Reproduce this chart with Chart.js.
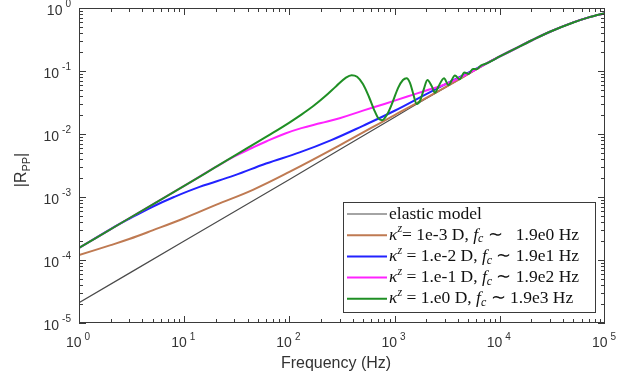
<!DOCTYPE html>
<html lang="en">
<head>
  <meta charset="UTF-8" />
  <title>|Rpp| versus frequency</title>
  <script src="https://cdn.jsdelivr.net/npm/chart.js"></script>
  <style>
    html, body { margin: 0; padding: 0; background: #fff; }
    #wrap { width: 618px; height: 383px; }
  </style>
</head>
<body>
  <div id="wrap"><canvas id="rppChart" width="618" height="383"></canvas></div>

  <script>
    // elastic reference curve
    const freqElastic = [1, 10, 100, 1000, 2000, 5000, 7500, 10000, 15000, 20000, 30000, 50000, 70000, 100000];
    const rppElastic  = [2.1e-5, 2.0e-4, 1.9e-3, 0.0185, 0.0365, 0.089, 0.132, 0.17, 0.24, 0.305, 0.42, 0.59, 0.71, 0.83];

    // kappa = 1e-3 D
    const freqK3 = [1, 2, 3, 5, 10, 20, 45, 100, 300, 1000, 2000, 5000, 7500, 10000, 15000, 20000, 30000, 50000, 70000, 100000];
    const rppK3  = [1.2e-4, 1.72e-4, 2.15e-4, 2.95e-4, 4.6e-4, 7.5e-4, 1.3e-3, 2.5e-3, 6.6e-3, 0.0200, 0.0375, 0.089, 0.132, 0.17, 0.24, 0.305, 0.42, 0.59, 0.71, 0.83];

    // kappa = 1e-2 D
    const freqK2 = [1, 2, 3, 5, 8, 14, 30, 60, 125, 250, 500, 1000, 2000, 4000, 7500, 10000, 15000, 20000, 30000, 50000, 70000, 100000];
    const rppK2  = [1.55e-4, 3.1e-4, 4.5e-4, 7.0e-4, 1.0e-3, 1.45e-3, 2.2e-3, 3.4e-3, 5.1e-3, 8.0e-3, 0.0135, 0.0234, 0.043, 0.078, 0.132, 0.17, 0.24, 0.305, 0.42, 0.59, 0.71, 0.83];

    // kappa = 1e-1 D
    const freqK1 = [1, 3, 10, 20, 30, 45, 60, 90, 130, 200, 300, 500, 800, 1300, 2000, 3000, 5000, 7500, 10000, 15000, 20000, 30000, 50000, 70000, 100000];
    const rppK1  = [1.55e-4, 4.6e-4, 1.5e-3, 3.0e-3, 4.4e-3, 6.1e-3, 7.6e-3, 0.0101, 0.0124, 0.0149, 0.0178, 0.0235, 0.030, 0.039, 0.049, 0.061, 0.091, 0.132, 0.17, 0.24, 0.305, 0.42, 0.59, 0.71, 0.83];

    // kappa = 1e0 D (resonant)
    const freqK0 = [1, 3, 10, 20, 40, 70, 100, 130, 170, 220, 280, 340, 390, 440, 500, 570, 640, 700, 760, 850, 950, 1080, 1200, 1300,
                    1400, 1500, 1620, 1750, 1900, 2050, 2250, 2420, 2600, 2950, 3250, 3750, 4150, 4600, 5050, 5550, 6050, 6600, 7500,
                    10000, 15000, 20000, 30000, 50000, 70000, 100000];
    const rppK0  = [1.55e-4, 4.6e-4, 1.5e-3, 3.0e-3, 6.0e-3, 0.0105, 0.0152, 0.0203, 0.028, 0.040, 0.058, 0.077, 0.086, 0.081, 0.062, 0.039, 0.024, 0.0178, 0.0165, 0.0205, 0.031, 0.054, 0.072, 0.077,
                    0.065, 0.044, 0.030, 0.034, 0.052, 0.072, 0.058, 0.045, 0.056, 0.077, 0.060, 0.085, 0.074, 0.095, 0.090, 0.108, 0.107, 0.122, 0.132,
                    0.17, 0.24, 0.305, 0.42, 0.59, 0.71, 0.83];

    const xTickExps = [0, 1, 2, 3, 4, 5];
    const yTickExps = [-5, -4, -3, -2, -1, 0];

    const seriesColors = ['#4a4a4a', '#bf7a52', '#2222ff', '#ff22ff', '#1f8f24'];
    const seriesWidths = [1.2, 2, 2, 2, 2];

    // legend rows as text runs: n = normal, it = italic, sup / sub = small italic
    const legendLabels = [
      [['elastic model', 'n']],
      [['κ', 'it'], ['z', 'sup'], ['= 1e-3 D, ', 'n'], ['f', 'it'], ['c', 'sub'], [' ∼   1.9e0 Hz', 'n']],
      [['κ', 'it'], ['z', 'sup'], [' = 1.e-2 D, ', 'n'], ['f', 'it'], ['c', 'sub'], [' ∼ 1.9e1 Hz', 'n']],
      [['κ', 'it'], ['z', 'sup'], [' = 1.e-1 D, ', 'n'], ['f', 'it'], ['c', 'sub'], [' ∼ 1.9e2 Hz', 'n']],
      [['κ', 'it'], ['z', 'sup'], [' = 1.e0 D, ', 'n'], ['f', 'it'], ['c', 'sub'], [' ∼ 1.9e3 Hz', 'n']]
    ];

    const toPoints = (xs, ys) => xs.map((f, i) => ({ x: f, y: ys[i] }));
    const allSeries = [
      [freqElastic, rppElastic],
      [freqK3, rppK3],
      [freqK2, rppK2],
      [freqK1, rppK1],
      [freqK0, rppK0]
    ];

    const datasets = allSeries.map(([xs, ys], i) => ({
      data: toPoints(xs, ys),
      borderColor: seriesColors[i],
      borderWidth: seriesWidths[i],
      pointRadius: 0,
      fill: false,
      // smooth splines; the resonant curve keeps monotone segments so peaks don't overshoot
      tension: 0.4,
      cubicInterpolationMode: i === 4 ? 'monotone' : 'default',
      order: allSeries.length - i   // last series ends up on top
    }));

    const SANS = '"Liberation Sans", Arial, sans-serif';
    const SERIF = '"Liberation Serif", "Times New Roman", serif';

    function runFont(style) {
      if (style === 'n') return '17.5px ' + SERIF;
      if (style === 'it') return 'italic 17.5px ' + SERIF;
      return 'italic 12px ' + SERIF;
    }

    function drawRuns(ctx, runs, x, y) {
      ctx.textBaseline = 'middle';
      ctx.textAlign = 'left';
      for (const [t, s] of runs) {
        ctx.font = runFont(s);
        const dy = s === 'sup' ? -6 : s === 'sub' ? 4 : 0;
        ctx.fillText(t, x, y + dy);
        x += ctx.measureText(t).width;
      }
    }

    // box, inward ticks, power-of-ten labels, titles and legend
    const frame = {
      id: 'frame',
      afterDatasetsDraw(chart) {
        const { ctx, chartArea: a, scales: { x, y } } = chart;
        ctx.save();
        ctx.strokeStyle = '#3a3a3a';
        ctx.lineWidth = 1;
        ctx.strokeRect(a.left + 0.5, a.top + 0.5, a.right - a.left - 1, a.bottom - a.top - 1);

        ctx.beginPath();
        for (let e = xTickExps[0]; e < xTickExps[xTickExps.length - 1]; e++) {
          for (let m = 1; m <= 9; m++) {
            const px = Math.round(x.getPixelForValue(m * Math.pow(10, e))) + 0.5;
            const len = m === 1 ? 7 : 4;
            ctx.moveTo(px, a.bottom); ctx.lineTo(px, a.bottom - len);
            ctx.moveTo(px, a.top); ctx.lineTo(px, a.top + len);
          }
        }
        for (let e = yTickExps[0]; e < yTickExps[yTickExps.length - 1]; e++) {
          for (let m = 1; m <= 9; m++) {
            const py = Math.round(y.getPixelForValue(m * Math.pow(10, e))) + 0.5;
            const len = m === 1 ? 7 : 4;
            ctx.moveTo(a.left, py); ctx.lineTo(a.left + len, py);
            ctx.moveTo(a.right, py); ctx.lineTo(a.right - len, py);
          }
        }
        ctx.stroke();

        // tick labels
        ctx.fillStyle = '#333';
        ctx.textBaseline = 'middle';
        ctx.textAlign = 'left';
        for (const e of xTickExps) {
          const px = x.getPixelForValue(Math.pow(10, e));
          ctx.font = '14px ' + SANS;
          const w10 = ctx.measureText('10').width;
          ctx.font = '10px ' + SANS;
          const we = ctx.measureText(String(e)).width;
          const x0 = px - (w10 + 3 + we) / 2 - 1;
          ctx.font = '14px ' + SANS;
          ctx.fillText('10', x0, a.bottom + 20);
          ctx.font = '10px ' + SANS;
          ctx.fillText(String(e), x0 + w10 + 3, a.bottom + 14);
        }
        for (const e of yTickExps) {
          const py = y.getPixelForValue(Math.pow(10, e));
          ctx.font = '10px ' + SANS;
          const we = ctx.measureText(String(e)).width;
          ctx.font = '14px ' + SANS;
          const w10 = ctx.measureText('10').width;
          const xr = a.left - 8;
          ctx.fillText('10', xr - we - 3 - w10, py + 3);
          ctx.font = '10px ' + SANS;
          ctx.fillText(String(e), xr - we, py - 4);
        }

        // x title
        ctx.font = '16px ' + SANS;
        ctx.textAlign = 'center';
        ctx.textBaseline = 'alphabetic';
        ctx.fillText('Frequency (Hz)', 336, 368);

        // y title |R_PP|, rotated
        ctx.save();
        ctx.translate(22, 170);
        ctx.rotate(-Math.PI / 2);
        ctx.textAlign = 'left';
        ctx.textBaseline = 'middle';
        ctx.font = '16px ' + SANS;
        const wA = ctx.measureText('|R').width;
        const wC = ctx.measureText('|').width;
        ctx.font = '11px ' + SANS;
        const wB = ctx.measureText('PP').width;
        let tx = -(wA + wB + wC) / 2;
        ctx.font = '16px ' + SANS;
        ctx.fillText('|R', tx, 0); tx += wA;
        ctx.font = '11px ' + SANS;
        ctx.fillText('PP', tx, 5); tx += wB;
        ctx.font = '16px ' + SANS;
        ctx.fillText('|', tx, 0);
        ctx.restore();

        // legend
        const lx = 343, ly = 202, lw = 252, lh = 110;
        ctx.fillStyle = '#fff';
        ctx.fillRect(lx, ly, lw, lh);
        ctx.strokeStyle = '#3a3a3a';
        ctx.strokeRect(lx + 0.5, ly + 0.5, lw, lh);
        legendLabels.forEach((runs, i) => {
          const ry = 214 + i * 21.2;
          ctx.strokeStyle = seriesColors[i];
          ctx.lineWidth = seriesWidths[i];
          ctx.beginPath();
          ctx.moveTo(347, ry); ctx.lineTo(387, ry);
          ctx.stroke();
          ctx.fillStyle = '#111';
          drawRuns(ctx, runs, 389, ry);
        });
        ctx.restore();
      }
    };

    new Chart(document.getElementById('rppChart'), {
      type: 'line',
      data: { datasets },
      options: {
        responsive: false,
        animation: false,
        layout: { padding: { left: 79, right: 13, top: 8, bottom: 60 } },
        plugins: { legend: { display: false }, tooltip: { enabled: false } },
        scales: {
          x: { type: 'logarithmic', min: 1, max: 1e5, display: false },
          y: { type: 'logarithmic', min: 1e-5, max: 1, display: false }
        }
      },
      plugins: [frame]
    });
  </script>
</body>
</html>
